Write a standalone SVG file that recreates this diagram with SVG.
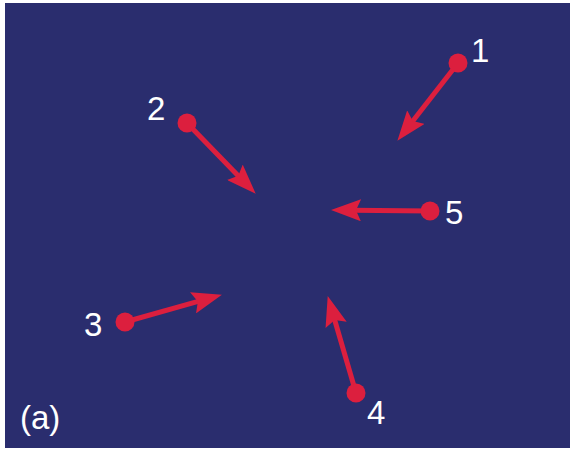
<svg xmlns="http://www.w3.org/2000/svg" width="574" height="454" viewBox="0 0 574 454">
<style>
.bg{fill:#2a2d6e}
.shaft{stroke:#dc1f3e;stroke-width:5;fill:none;marker-end:url(#head)}
.dot{fill:#dc1f3e}
.lbl{font-family:"Liberation Sans",Arial,sans-serif;font-size:33px;fill:#ffffff}
</style>
<defs>
<marker id="head" viewBox="0 0 30 22" refX="9" refY="11" markerUnits="userSpaceOnUse" markerWidth="30" markerHeight="22" orient="auto">
<path d="M0,0 L30,11 L0,22 L5,11 Z" fill="#dc1f3e"/>
</marker>
</defs>
<rect class="bg" x="5" y="3" width="565" height="445"/>
<g id="connectors">
<line class="shaft" x1="458" y1="63" x2="410.3" y2="124.2"/>
<line class="shaft" x1="187" y1="123" x2="241.1" y2="178.7"/>
<line class="shaft" x1="430" y1="211" x2="352" y2="210.2"/>
<line class="shaft" x1="125" y1="322" x2="201.7" y2="300.4"/>
<line class="shaft" x1="356" y1="393" x2="333.6" y2="316.2"/>
</g>
<g id="p1"><circle class="dot" cx="458" cy="63" r="9.5"/><text class="lbl" x="471" y="62">1</text></g>
<g id="p2"><circle class="dot" cx="187" cy="123" r="9.5"/><text class="lbl" x="147" y="120">2</text></g>
<g id="p3"><circle class="dot" cx="125" cy="322" r="9.5"/><text class="lbl" x="84" y="336">3</text></g>
<g id="p4"><circle class="dot" cx="356" cy="393" r="9.5"/><text class="lbl" x="367" y="424">4</text></g>
<g id="p5"><circle class="dot" cx="430" cy="211" r="9.5"/><text class="lbl" x="445" y="224">5</text></g>
<g id="caption"><text class="lbl" x="20" y="429">(a)</text></g>
</svg>
